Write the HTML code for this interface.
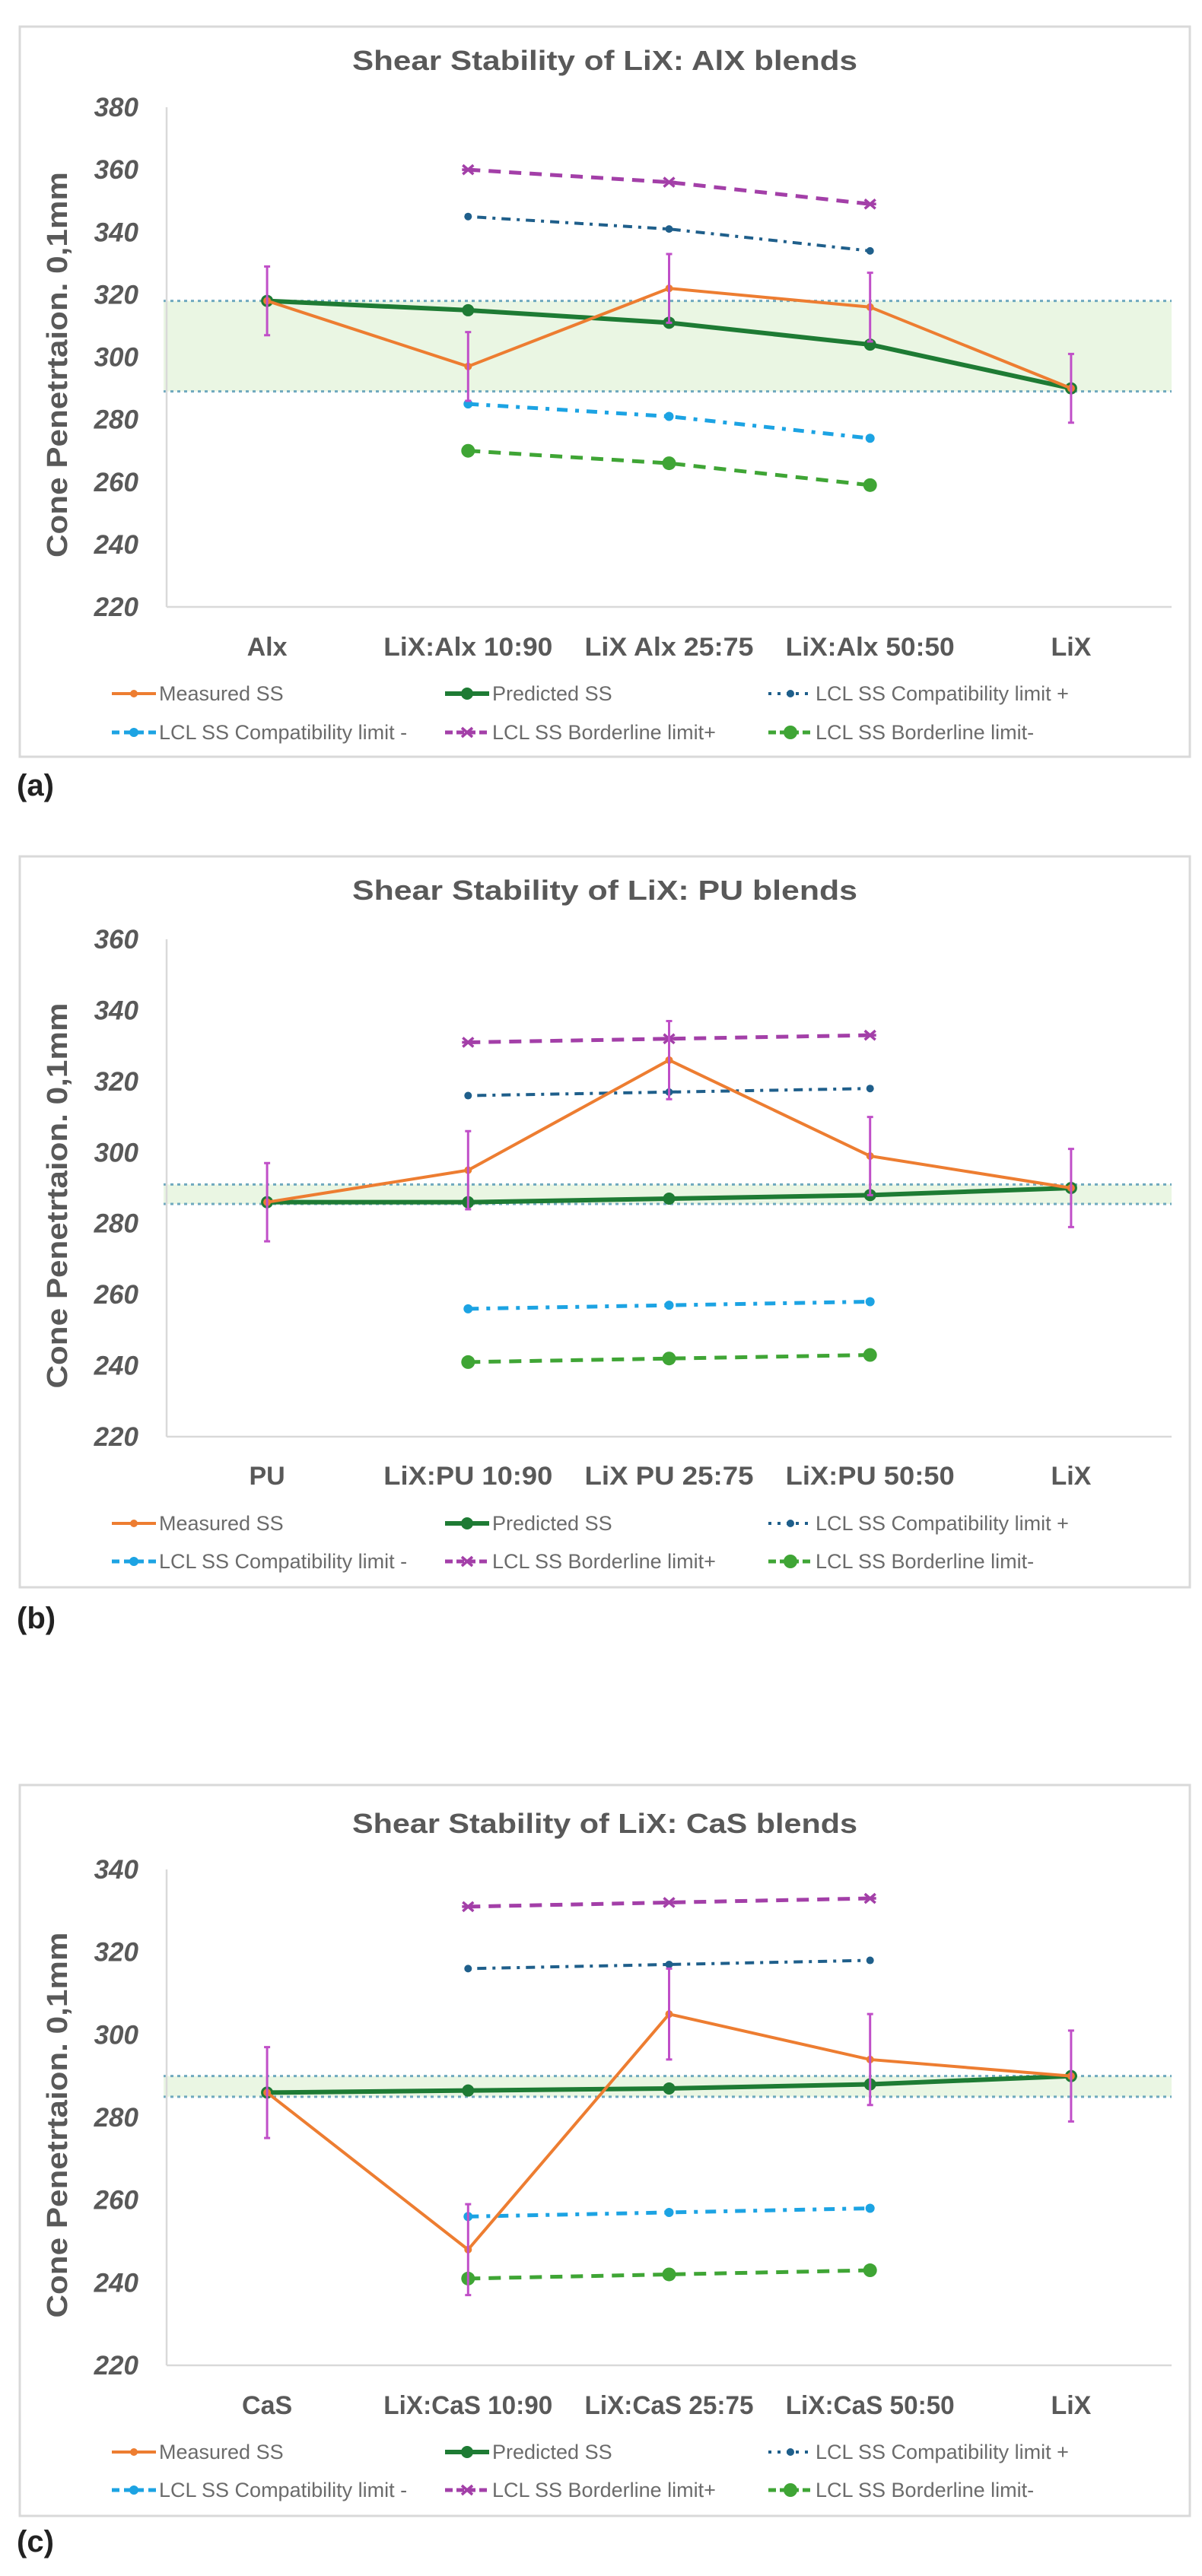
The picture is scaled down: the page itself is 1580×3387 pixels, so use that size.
<!DOCTYPE html>
<html><head><meta charset="utf-8">
<style>
html,body{margin:0;padding:0;background:#fff;}
svg{display:block;}
text{font-family:"Liberation Sans",sans-serif;}
</style></head>
<body>
<svg id="fig" width="1580" height="3387" viewBox="0 0 1580 3387" xmlns="http://www.w3.org/2000/svg"></svg>
<script>
// ---- Panel (a) data ----
const catsA = ["Alx","LiX:Alx 10:90","LiX Alx 25:75","LiX:Alx 50:50","LiX"];
const measuredA = [318,297,322,316,290];
const errA = [11,11,11,11,11];
const predictedA = [318,315,311,304,290];
const compatPlusA = [345,341,334];
const compatMinusA = [285,281,274];
const borderPlusA = [360,356,349];
const borderMinusA = [270,266,259];
const bandA = [289,318];
const ticksA = [220,240,260,280,300,320,340,360,380];

// ---- Panel (b) data ----
const catsB = ["PU","LiX:PU 10:90","LiX PU 25:75","LiX:PU 50:50","LiX"];
const measuredB = [286,295,326,299,290];
const errB = [11,11,11,11,11];
const predictedB = [286,286,287,288,290];
const compatPlusB = [316,317,318];
const compatMinusB = [256,257,258];
const borderPlusB = [331,332,333];
const borderMinusB = [241,242,243];
const bandB = [285.5,291];
const ticksB = [220,240,260,280,300,320,340,360];

// ---- Panel (c) data ----
const catsC = ["CaS","LiX:CaS 10:90","LiX:CaS 25:75","LiX:CaS 50:50","LiX"];
const measuredC = [286,248,305,294,290];
const errC = [11,11,11,11,11];
const predictedC = [286,286.5,287,288,290];
const compatPlusC = [316,317,318];
const compatMinusC = [256,257,258];
const borderPlusC = [331,332,333];
const borderMinusC = [241,242,243];
const bandC = [285,290];
const ticksC = [220,240,260,280,300,320,340];

const titles = ["Shear Stability of LiX: AlX blends","Shear Stability of LiX: PU blends","Shear Stability of LiX: CaS blends"];
const legendLabels = ["Measured SS","Predicted SS","LCL SS Compatibility limit +","LCL SS Compatibility limit -","LCL SS Borderline limit+","LCL SS Borderline limit-"];
const panelLetters = ["(a)","(b)","(c)"];

const NS = "http://www.w3.org/2000/svg";
const svg = document.getElementById("fig");
function mk(tag, attrs, parent, txt){
  const e = document.createElementNS(NS, tag);
  for (const k in attrs) e.setAttribute(k, attrs[k]);
  if (txt !== undefined) e.textContent = txt;
  (parent||svg).appendChild(e);
  return e;
}

const C = {meas:"#ED7D31", pred:"#1E7B34", cp:"#1F5F8B", cm:"#1CA3E3", bp:"#A33FA8", bm:"#3FA535", err:"#C04FC8", band:"#EAF6E3", bandLine:"#6FA9BF", grey:"#595959"};

function drawPanel(idx, L){
  const g = mk("g", {});
  
  
  const b = mk("rect", {x:26, y:L.top, width:1538, height:L.bottom-L.top, fill:"#fff", stroke:"#D9D9D9", "stroke-width":3}, g);
  
  
  const t = mk("text", {x:795, y:L.titleY, "text-anchor":"middle", "font-size":36, "font-weight":"bold", fill:C.grey, textLength:664, lengthAdjust:"spacingAndGlyphs"}, g, titles[idx]);
  
  

  const x0 = 219, x1 = 1540, step = (x1-x0)/5;
  const ymin = L.ticks[0], ymax = L.ticks[L.ticks.length-1];
  const Y = v => L.yBot - (v - ymin)/(ymax - ymin)*(L.yBot - L.yTop);
  const X = i => x0 + step*(i+0.5);

  const band = mk("rect", {x:215, y:Y(L.band[1]), width:x1-215, height:Y(L.band[0])-Y(L.band[1]), fill:C.band}, g);
  
  
  L.band.forEach(v=>{
    const bl = mk("line", {x1:215, x2:x1, y1:Y(v), y2:Y(v), stroke:C.bandLine, "stroke-width":3, "stroke-dasharray":"4,5"}, g);
    
    
  });

  const ya = mk("line", {x1:x0, x2:x0, y1:L.yTop, y2:L.yBot, stroke:"#D9D9D9", "stroke-width":2.5}, g);
  
  
  const xa = mk("line", {x1:x0, x2:x1, y1:L.yBot, y2:L.yBot, stroke:"#D9D9D9", "stroke-width":2.5}, g);
  
  
  L.ticks.forEach(v=>{
    const tl = mk("text", {x:182, y:Y(v)+12, "text-anchor":"end", "font-size":35, "font-weight":"bold", "font-style":"italic", fill:C.grey}, g, String(v));
    
    
  });
  const yc = (L.yTop + L.yBot)/2 + 10;
  const yt = mk("text", {x:0, y:0, transform:`translate(88,${yc}) rotate(-90)`, "text-anchor":"middle", "font-size":38, "font-weight":"bold", fill:C.grey, textLength:507, lengthAdjust:"spacingAndGlyphs"}, g, "Cone Penetrtaion. 0,1mm");
  
  
  L.cats.forEach((c,i)=>{
    const attrs = {x:X(i), y:L.catY+12, "text-anchor":"middle", "font-size":34, "font-weight":"bold", fill:C.grey};
    if (c.length > 4){ attrs.textLength = 222; attrs.lengthAdjust = "spacingAndGlyphs"; }
    const ct = mk("text", attrs, g, c);
    
    
  });

  function series(vals, start, color, width, dash, name, marker){
    const pts = vals.map((v,i)=>`${X(i+start)},${Y(v)}`).join(" ");
    const pl = mk("polyline", {points:pts, fill:"none", stroke:color, "stroke-width":width, "stroke-dasharray":dash||"none", "stroke-linejoin":"round"}, g);
    
    
    vals.forEach((v,i)=>{
      const cx = X(i+start), cy = Y(v);
      let m;
      if (marker === "x"){
        m = mk("path", {d:`M${cx-7},${cy-6}L${cx+7},${cy+6}M${cx-7},${cy+6}L${cx+7},${cy-6}M${cx-8},${cy}L${cx+8},${cy}`, stroke:color, "stroke-width":3.5, fill:"none"}, g);
      } else {
        m = mk("circle", {cx:cx, cy:cy, r:marker, fill:color}, g);
      }
      
      
    });
  }

  series(L.bp, 1, C.bp, 5, "16,11", "borderline-plus", "x");
  series(L.cp, 1, C.cp, 4, "4,8,12,8", "compat-plus", 5);
  series(L.cm, 1, C.cm, 5, "14,10,5,10", "compat-minus", 6);
  series(L.bm, 1, C.bm, 5, "16,11", "borderline-minus", 9);
  series(L.pred, 0, C.pred, 6, null, "predicted-ss", 8);
  series(L.meas, 0, C.meas, 4, null, "measured-ss", 5);

  L.meas.forEach((v,i)=>{
    const cx = X(i);
    const e = mk("path", {d:`M${cx},${Y(v+L.err[i])}L${cx},${Y(v-L.err[i])}M${cx-4},${Y(v+L.err[i])}L${cx+4},${Y(v+L.err[i])}M${cx-4},${Y(v-L.err[i])}L${cx+4},${Y(v-L.err[i])}`, stroke:C.err, "stroke-width":3, fill:"none"}, g);
    
    
  });

  const cols = [147, 585, 1010];
  const rows = [L.leg1, L.leg2];
  const legStyle = [
    [C.meas,4,null,5],[C.pred,6,null,8],[C.cp,4,"4,8",5],
    [C.cm,5,"10,6",6],[C.bp,5,"10,5","x"],[C.bm,5,"10,5",9]];
  legendLabels.forEach((lab,k)=>{
    const r = Math.floor(k/3), c = k%3;
    const lx = cols[c], ly = rows[r];
    const lg = mk("g", {}, g);
    
    
    const s = legStyle[k];
    mk("line", {x1:lx, x2:lx+58, y1:ly, y2:ly, stroke:s[0], "stroke-width":s[1], "stroke-dasharray":s[2]||"none"}, lg);
    if (s[3]==="x") mk("path",{d:`M${lx+22},${ly-6}L${lx+36},${ly+6}M${lx+22},${ly+6}L${lx+36},${ly-6}`,stroke:s[0],"stroke-width":3.5},lg);
    else mk("circle", {cx:lx+29, cy:ly, r:s[3], fill:s[0]}, lg);
    mk("text", {x:lx+62, y:ly+9, "font-size":27, fill:"#6b6b6b"}, lg, lab);
  });

  const pl = mk("text", {x:22, y:L.letterY+13, "font-size":40, "font-weight":"bold", "font-family":"Liberation Serif, serif", fill:"#222"}, svg, panelLetters[idx]);
  
  
}

drawPanel(0, {top:35, bottom:995, titleY:92, yTop:141, yBot:798, ticks:ticksA, cats:catsA, catY:850, leg1:912, leg2:963, letterY:1033,
  meas:measuredA, err:errA, pred:predictedA, cp:compatPlusA, cm:compatMinusA, bp:borderPlusA, bm:borderMinusA, band:bandA});
drawPanel(1, {top:1126, bottom:2087, titleY:1183, yTop:1235, yBot:1889, ticks:ticksB, cats:catsB, catY:1940, leg1:2003, leg2:2053, letterY:2128,
  meas:measuredB, err:errB, pred:predictedB, cp:compatPlusB, cm:compatMinusB, bp:borderPlusB, bm:borderMinusB, band:bandB});
drawPanel(2, {top:2347, bottom:3308, titleY:2410, yTop:2458, yBot:3110, ticks:ticksC, cats:catsC, catY:3162, leg1:3224, leg2:3274, letterY:3342,
  meas:measuredC, err:errC, pred:predictedC, cp:compatPlusC, cm:compatMinusC, bp:borderPlusC, bm:borderMinusC, band:bandC});
</script>
</body></html>
